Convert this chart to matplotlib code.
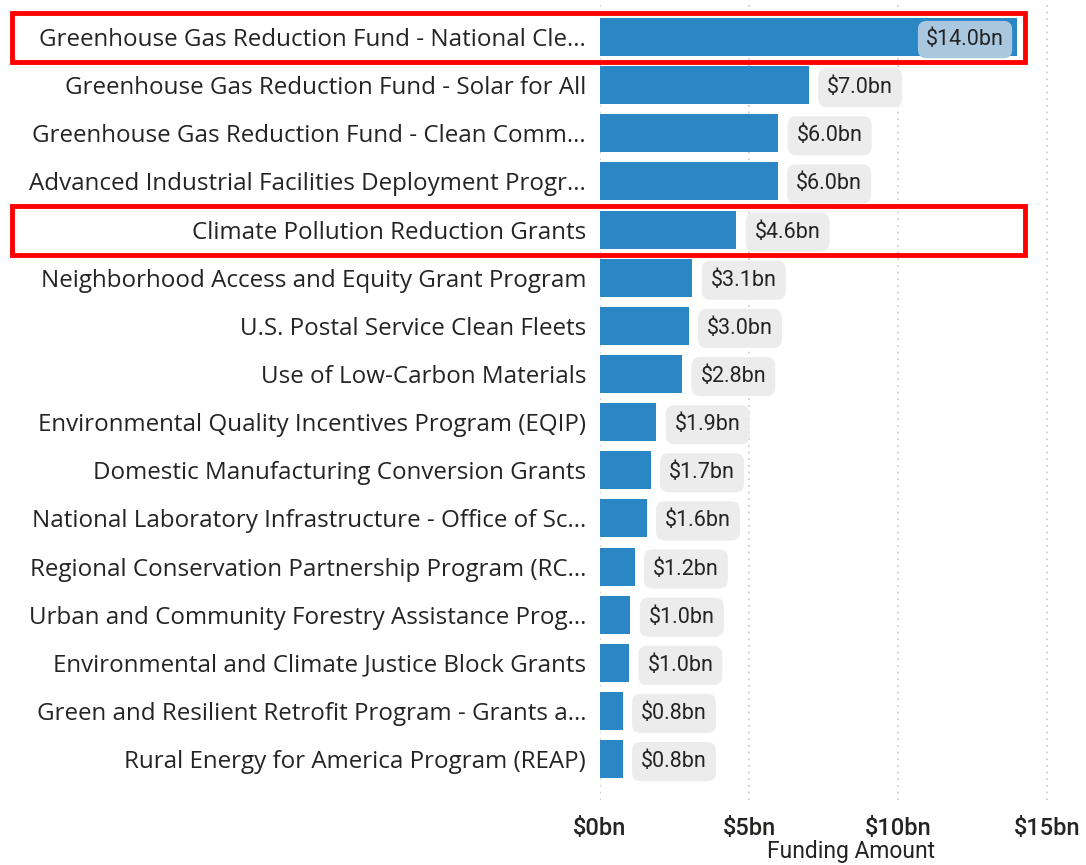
import matplotlib
matplotlib.use("Agg")
import matplotlib.pyplot as plt
from matplotlib.patches import Rectangle
from matplotlib.transforms import blended_transform_factory

# DATA
programs = [
    "Greenhouse Gas Reduction Fund - National Cle...",
    "Greenhouse Gas Reduction Fund - Solar for All",
    "Greenhouse Gas Reduction Fund - Clean Comm...",
    "Advanced Industrial Facilities Deployment Progr...",
    "Climate Pollution Reduction Grants",
    "Neighborhood Access and Equity Grant Program",
    "U.S. Postal Service Clean Fleets",
    "Use of Low-Carbon Materials",
    "Environmental Quality Incentives Program (EQIP)",
    "Domestic Manufacturing Conversion Grants",
    "National Laboratory Infrastructure - Office of Sc...",
    "Regional Conservation Partnership Program (RC...",
    "Urban and Community Forestry Assistance Prog...",
    "Environmental and Climate Justice Block Grants",
    "Green and Resilient Retrofit Program - Grants a...",
    "Rural Energy for America Program (REAP)",
]
funding_bn = [14.0, 7.0, 5.98, 5.96, 4.57, 3.1, 2.97, 2.75,
              1.89, 1.7, 1.56, 1.16, 1.02, 0.97, 0.76, 0.76]
highlighted = [0, 4]
x_ticks = [0, 5, 10, 15]

bar_color = "#2b86c5"
text_color = "#252423"

fig = plt.figure(figsize=(10.86, 8.65), dpi=100)
ax = fig.add_axes([600 / 1086, 65 / 865, 480 / 1086, 800 / 865])

rows = list(range(len(programs)))
ax.barh(rows, funding_bn, height=0.79, color=bar_color, zorder=2)
ax.set_ylim(15.85, -0.77)
ax.set_xlim(0, 16.1)

ax.set_yticks(rows)
ax.set_yticklabels(programs, fontsize=17.4, family="Open Sans", color=text_color)
ax.tick_params(axis="y", length=0, pad=10)

ax.set_xticks(x_ticks)
ax.set_xticklabels([f"${t}bn" for t in x_ticks], fontsize=17, family="Roboto",
                   fontweight="medium", color=text_color)
ax.tick_params(axis="x", length=0, pad=12)
ax.set_xlabel("Funding Amount", fontsize=16.5, family="Roboto", color=text_color)
ax.xaxis.set_label_coords(0.523, -0.05)

ax.grid(axis="x", linestyle=(0, (1, 3)), color="#c8c8c8", linewidth=1.2, zorder=0)
for s in ax.spines.values():
    s.set_visible(False)

# value labels
for i, v in enumerate(funding_bn):
    label = f"${v:.1f}bn"
    if v > 10:
        ax.text(v - 0.45, i, label, ha="right", va="center_baseline", fontsize=15.5,
                family="Roboto", color=text_color, zorder=3,
                bbox=dict(boxstyle="round,pad=0.38,rounding_size=0.4",
                          fc="#a9c8e0", ec="none"))
    else:
        ax.text(v + 0.62, i, label, ha="left", va="center_baseline", fontsize=15.5,
                family="Roboto", color=text_color, zorder=3,
                bbox=dict(boxstyle="round,pad=0.42,rounding_size=0.4",
                          fc="#ececec", ec="none"))

# red highlight boxes
trans = blended_transform_factory(fig.transFigure, ax.transData)
for i in highlighted:
    ax.add_patch(Rectangle((12 / 1086, i - 0.5), 1013 / 1086, 1.02,
                           transform=trans, fill=False, ec="#ff0000",
                           lw=3.5, clip_on=False, zorder=5))

fig.savefig("out.png", dpi=100)
